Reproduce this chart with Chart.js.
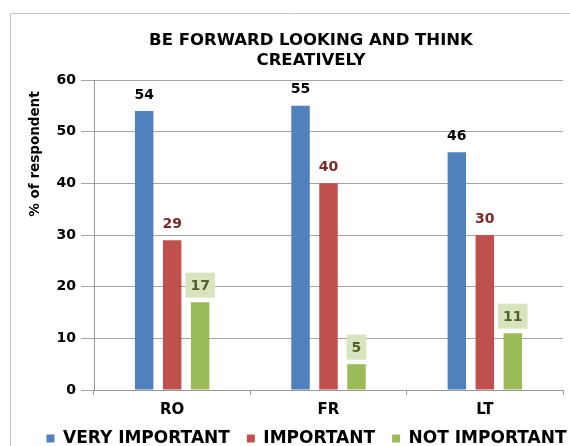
<!DOCTYPE html>
<html>
<head>
<meta charset="utf-8">
<script src="https://cdn.jsdelivr.net/npm/chart.js@4/dist/chart.umd.min.js"></script>
<style>
  body { margin: 0; background: #fff; }
  #wrap { position: relative; width: 570px; height: 446px; }
</style>
</head>
<body>
<div id="wrap"><canvas id="barChart" width="570" height="446"></canvas></div>
<script>
var categories = ["RO", "FR", "LT"];
var veryImportant = [54, 55, 46];
var important = [29, 40, 30];
var notImportant = [17, 5, 11];
var yTicks = [0, 10, 20, 30, 40, 50, 60];

var titleLines = ["BE FORWARD LOOKING AND THINK", "CREATIVELY"];
var yTitle = "% of respondent";
var FONT = "'DejaVu Sans', Verdana, sans-serif";

// frame, title, y title, value labels
var extras = {
    id: 'extras',
    afterLayout: function(chart) {
        // legend sits right of centre and tight under the axis in the original
        chart.legend.left += 25;
        chart.legend.right += 25;
        chart.legend.top -= 3;
        chart.legend.bottom -= 3;
    },
    beforeDraw: function(chart) {
        var ctx = chart.ctx;
        ctx.save();
        ctx.strokeStyle = "#c4c4c4";
        ctx.lineWidth = 1;
        ctx.beginPath();
        ctx.moveTo(10.5, 446);
        ctx.lineTo(10.5, 13.5);
        ctx.lineTo(570, 13.5);
        ctx.stroke();
        ctx.restore();
    },
    afterDatasetsDraw: function(chart) {
        var ctx = chart.ctx;
        ctx.save();
        ctx.font = "bold 16.5px " + FONT;
        ctx.fillStyle = "#000";
        ctx.textAlign = "center";
        ctx.textBaseline = "middle";
        ctx.fillText(titleLines[0], 311, 41);
        ctx.fillText(titleLines[1], 311, 61);

        ctx.translate(35, 154);
        ctx.rotate(-Math.PI / 2);
        ctx.font = "bold 13.5px " + FONT;
        ctx.fillText(yTitle, 0, 0);
        ctx.restore();

        ctx.save();
        ctx.font = "bold 14px " + FONT;
        ctx.textAlign = "center";
        ctx.textBaseline = "middle";
        chart.data.datasets.forEach(function(ds, i) {
            var meta = chart.getDatasetMeta(i);
            meta.data.forEach(function(bar, j) {
                var txt = String(ds.data[j]);
                var y = bar.y - 17;
                if (ds.labelBox) {
                    var w = ctx.measureText(txt).width + 10;
                    ctx.fillStyle = ds.labelBox;
                    ctx.fillRect(bar.x - w / 2, y - 12.5, w, 25);
                }
                ctx.fillStyle = ds.labelColor;
                ctx.fillText(txt, bar.x, y + 1);
            });
        });
        ctx.restore();
    }
};

var ctx = document.getElementById('barChart').getContext('2d');
var barChart = new Chart(ctx, {
    type: 'bar',
    data: {
        labels: categories,
        datasets: [{
            label: 'VERY IMPORTANT',
            backgroundColor: "#4f81bd",
            data: veryImportant,
            labelColor: "#000000"
        }, {
            label: 'IMPORTANT',
            backgroundColor: "#c0504d",
            data: important,
            labelColor: "#7a2b29"
        }, {
            label: 'NOT IMPORTANT',
            backgroundColor: "#9bbb59",
            data: notImportant,
            labelColor: "#4f6228",
            labelBox: "#d7e4bd"
        }]
    },
    options: {
        responsive: false,
        animation: false,
        categoryPercentage: 0.537,
        barPercentage: 0.66,
        layout: {
            padding: {
                left: 0,
                right: 7,
                top: 80,
                bottom: -14
            }
        },
        scales: {
            x: {
                ticks: {
                    color: "#000",
                    padding: 6,
                    font: { size: 15, weight: 'bold', family: FONT }
                },
                grid: {
                    offset: true,
                    drawOnChartArea: false,
                    color: "#999",
                    tickLength: 5
                },
                border: { color: "#999" },
                afterFit: function(scale) { scale.height = 26; }
            },
            y: {
                min: 0,
                max: 60,
                afterBuildTicks: function(scale) {
                    scale.ticks = yTicks.map(function(v) { return { value: v }; });
                },
                ticks: {
                    color: "#000",
                    padding: 5,
                    font: { size: 14, weight: 'bold', family: FONT }
                },
                grid: {
                    color: "#a4a4a4",
                    tickLength: 13
                },
                border: { color: "#999" },
                afterFit: function(scale) { scale.width = 94; }
            }
        },
        plugins: {
            tooltip: { enabled: false },
            legend: {
                position: "bottom",
                labels: {
                    color: "#000",
                    boxWidth: 8,
                    boxHeight: 8,
                    padding: 17,
                    font: { size: 17, weight: 'bold', family: FONT }
                }
            }
        }
    },
    plugins: [extras]
});
</script>
</body>
</html>
